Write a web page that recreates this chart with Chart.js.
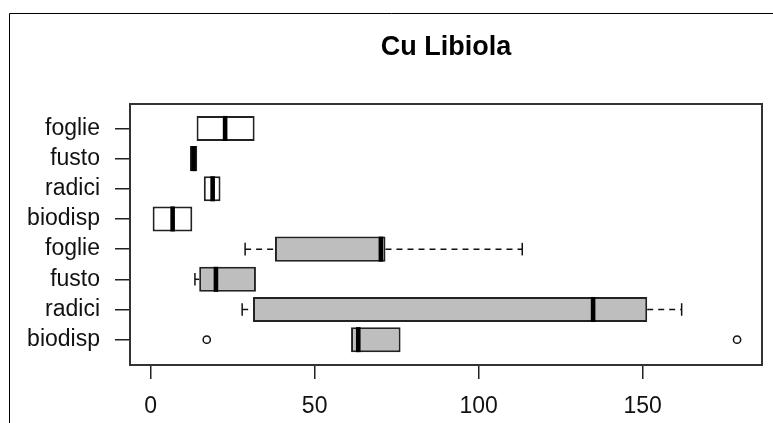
<!DOCTYPE html>
<html>
<head>
<meta charset="utf-8">
<script src="https://cdn.jsdelivr.net/npm/chart.js@4"></script>
<style>
  body { margin: 0; background: #fff; }
  #wrap { width: 773px; height: 423px; position: relative; }
</style>
</head>
<body>
<div id="wrap"><canvas id="chart"></canvas></div>
<script>
// rows listed top to bottom, as in the picture
const labels = ['foglie', 'fusto', 'radici', 'biodisp', 'foglie', 'fusto', 'radici', 'biodisp'];
const whiskerLow = [14.0, 12.0, 16.2, 0.6, 28.8, 13.5, 27.9, 61.1];
const q1 = [14.0, 12.0, 16.2, 0.6, 37.9, 14.8, 31.2, 61.1];
const median = [22.7, 13.1, 18.9, 6.7, 70.2, 19.9, 134.9, 63.3];
const q3 = [31.7, 14.2, 21.3, 12.7, 71.6, 32.1, 151.4, 76.2];
const whiskerHigh = [31.7, 14.2, 21.3, 12.7, 113.3, 32.1, 161.9, 76.2];
const outlierRow = [7, 7];
const outlierValue = [17.1, 178.8];
const xTicks = [0, 50, 100, 150];

const rowPos = labels.map((_, i) => labels.length - i);
const font = "'Liberation Sans', Arial, sans-serif";

// median, whiskers and staples, drawn through the scales
const boxParts = {
  id: 'boxParts',
  afterDatasetsDraw(chart) {
    const { ctx, scales: { x, y } } = chart;
    const meta = chart.getDatasetMeta(0);
    ctx.save();
    ctx.strokeStyle = '#111';
    labels.forEach((lab, i) => {
      const half = meta.data[i].height / 2;
      const yc = y.getPixelForValue(rowPos[i]);
      // whiskers
      ctx.lineWidth = 1.5;
      [[whiskerLow[i], q1[i]], [q3[i], whiskerHigh[i]]].forEach(([a, b]) => {
        if (Math.abs(a - b) < 0.01) return;
        const pa = x.getPixelForValue(a), pb = x.getPixelForValue(b);
        ctx.setLineDash([6, 5]);
        ctx.beginPath();
        ctx.moveTo(pa, yc);
        ctx.lineTo(pb, yc);
        ctx.stroke();
      });
      ctx.setLineDash([]);
      [[whiskerLow[i], q1[i]], [whiskerHigh[i], q3[i]]].forEach(([w, b]) => {
        if (Math.abs(w - b) < 0.01) return;
        const pw = x.getPixelForValue(w);
        ctx.beginPath();
        ctx.moveTo(pw, yc - half / 2);
        ctx.lineTo(pw, yc + half / 2);
        ctx.stroke();
      });
      // median
      const pm = x.getPixelForValue(median[i]);
      ctx.strokeStyle = '#000';
      ctx.lineWidth = 4.6;
      ctx.beginPath();
      ctx.moveTo(pm, yc - half);
      ctx.lineTo(pm, yc + half);
      ctx.stroke();
      ctx.strokeStyle = '#111';
    });
    ctx.restore();
  }
};

// plot box and the outer picture frame
const frames = {
  id: 'frames',
  afterDraw(chart) {
    const { ctx, chartArea: a } = chart;
    ctx.save();
    ctx.strokeStyle = '#333';
    ctx.lineWidth = 2;
    ctx.strokeRect(a.left, a.top, a.right - a.left, a.bottom - a.top);
    ctx.strokeStyle = '#000';
    ctx.lineWidth = 1;
    ctx.beginPath();
    ctx.moveTo(9.5, 423);
    ctx.lineTo(9.5, 13.5);
    ctx.lineTo(773, 13.5);
    ctx.stroke();
    ctx.restore();
  }
};

new Chart(document.getElementById('chart'), {
  type: 'bar',
  data: {
    datasets: [{
      type: 'bar',
      data: labels.map((_, i) => ({ y: rowPos[i], x: [q1[i], q3[i]] })),
      backgroundColor: labels.map((_, i) => i < 4 ? '#ffffff' : '#bebebe'),
      borderColor: '#222',
      borderWidth: 2,
      borderSkipped: false,
      barPercentage: 0.83,
      categoryPercentage: 1
    }, {
      type: 'scatter',
      data: outlierValue.map((v, i) => ({ x: v, y: rowPos[outlierRow[i]] })),
      pointStyle: 'circle',
      pointRadius: 3.6,
      pointBackgroundColor: '#fff',
      pointBorderColor: '#111',
      pointBorderWidth: 1.5
    }]
  },
  options: {
    indexAxis: 'y',
    responsive: true,
    maintainAspectRatio: false,
    animation: false,
    layout: { padding: { left: 0, right: 11, top: 0, bottom: 0 } },
    plugins: {
      legend: { display: false },
      tooltip: { enabled: false },
      title: {
        display: true,
        text: 'Cu Libiola',
        fullSize: false,
        color: '#000',
        font: { family: font, size: 27, weight: 'bold', lineHeight: 1.2 },
        padding: { top: 31, bottom: 40.6 }
      }
    },
    scales: {
      x: {
        type: 'linear',
        min: -6.3,
        max: 186.4,
        afterBuildTicks: s => { s.ticks = xTicks.map(v => ({ value: v })); },
        afterFit: s => { s.height = 58; },
        border: { display: false },
        grid: { drawOnChartArea: false, drawTicks: true, tickLength: 14, color: '#222', lineWidth: 1.5 },
        ticks: { color: '#111', padding: 14, maxRotation: 0, font: { family: font, size: 23 } }
      },
      y: {
        type: 'linear',
        offset: false,
        min: 0.16,
        max: 8.81,
        afterBuildTicks: s => { s.ticks = rowPos.map(v => ({ value: v })); },
        afterFit: s => { s.width = 130; },
        border: { display: false },
        grid: { offset: false, drawOnChartArea: false, drawTicks: true, tickLength: 15, color: '#222', lineWidth: 1.5 },
        ticks: {
          color: '#111',
          padding: 15,
          font: { family: font, size: 23 },
          callback: v => labels[labels.length - v]
        }
      }
    }
  },
  plugins: [boxParts, frames]
});
</script>
</body>
</html>
